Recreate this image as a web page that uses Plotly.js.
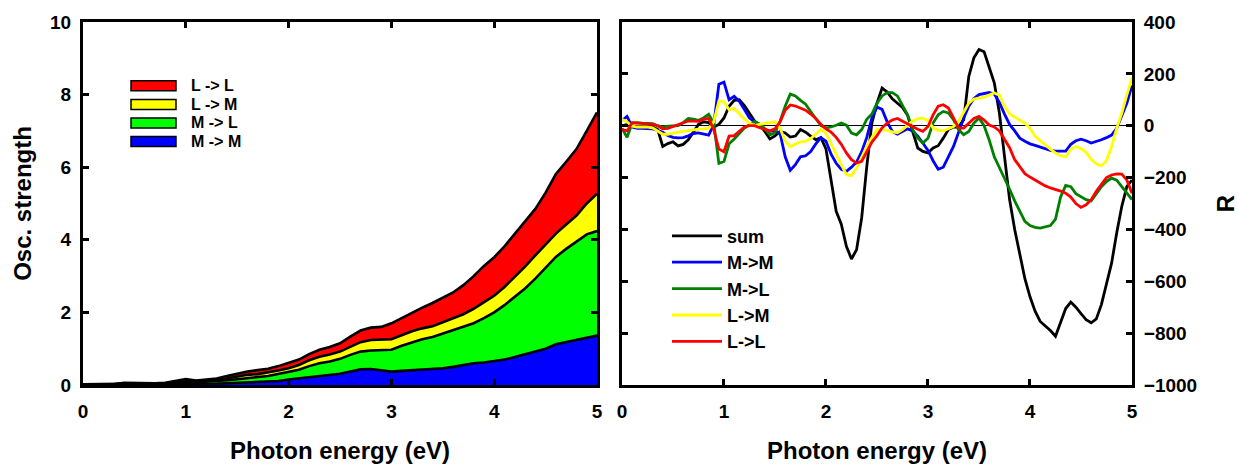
<!DOCTYPE html>
<html><head><meta charset="utf-8">
<script src="https://cdn.plot.ly/plotly-3.0.1.min.js"></script>
<style>html,body{margin:0;padding:0;background:#fff}#chart{width:1239px;height:464px}</style>
</head><body><div id="chart"></div>
<script>
// ---- Left panel: oscillator strength contributions (stacked) ----
const energyL = [0,0.1,0.2,0.3,0.4,0.5,0.6,0.7,0.8,0.9,1.0,1.1,1.2,1.3,1.4,1.5,1.6,1.7,1.8,1.9,2.0,
  2.1,2.2,2.3,2.4,2.5,2.6,2.7,2.8,2.9,3.0,3.1,3.2,3.3,3.4,3.5,3.6,3.7,3.8,3.9,4.0,
  4.1,4.2,4.3,4.4,4.5,4.6,4.7,4.8,4.9,5.0];
const oscMM = [.02,.02,.02,.02,.03,.03,.03,.03,.03,.03,.04,.03,.03,.04,.05,.06,.07,.08,.09,.11,.15,
  .18,.22,.26,.28,.31,.37,.43,.44,.41,.37,.39,.41,.42,.43,.46,.50,.55,.60,.62,.65,
  .70,.77,.84,.92,1.00,1.12,1.18,1.24,1.30,1.36];
const oscML = [0,0,0,0,.01,.01,.01,.01,.01,.05,.06,.05,.06,.06,.08,.10,.13,.14,.16,.19,.20,
  .24,.30,.34,.37,.41,.46,.49,.51,.54,.60,.69,.77,.84,.89,.96,1.02,1.05,1.10,1.22,1.35,
  1.50,1.66,1.82,2.01,2.22,2.41,2.57,2.71,2.85,2.88];
const oscLM = [0,0,0,0,.01,0,0,0,.01,.02,.03,.02,.02,.04,.05,.08,.08,.08,.09,.10,.11,
  .13,.16,.18,.19,.20,.22,.26,.29,.29,.29,.29,.30,.30,.30,.31,.33,.35,.40,.44,.46,
  .50,.55,.60,.64,.65,.64,.67,.72,.85,1.03];
const oscLL = [0,0,0,0,.01,.01,.01,.01,.01,.02,.03,.02,.03,.04,.07,.08,.09,.11,.11,.12,.14,
  .15,.17,.19,.21,.23,.28,.32,.34,.36,.44,.48,.52,.57,.64,.67,.70,.80,.90,1.00,1.06,
  1.12,1.19,1.24,1.28,1.43,1.64,1.73,1.83,2.00,2.24];

// ---- Right panel: rotatory strength R ----
const energyR = [0,0.05,0.1,0.15,0.2,0.25,0.3,0.35,0.4,0.45,0.5,0.55,0.6,0.65,0.7,0.75,0.8,0.85,0.9,0.95,
  1.0,1.05,1.1,1.15,1.2,1.25,1.3,1.35,1.4,1.45,1.5,1.55,1.6,1.65,1.7,1.75,1.8,1.85,1.9,1.95,
  2.0,2.05,2.1,2.15,2.2,2.25,2.3,2.35,2.4,2.45,2.5,2.55,2.6,2.65,2.7,2.75,2.8,2.85,2.9,2.95,
  3.0,3.05,3.1,3.15,3.2,3.25,3.3,3.35,3.4,3.45,3.5,3.55,3.6,3.65,3.7,3.75,3.8,3.85,3.9,3.95,
  4.0,4.05,4.1,4.15,4.2,4.25,4.3,4.35,4.4,4.45,4.5,4.55,4.6,4.65,4.7,4.75,4.8,4.85,4.9,4.95,5.0];
const rSum = [0,5,-3,-3,-3,-3,-5,-15,-80,-69,-62,-78,-72,-54,-22,5,15,12,-5,5,
  30,75,98,100,78,50,18,2,-22,-51,-39,-22,-28,-44,-40,-15,-25,-40,-54,-46,
  -90,-210,-330,-380,-465,-514,-478,-355,-157,10,87,145,130,104,88,70,40,-20,-86,-99,
  -105,-86,-77,-48,-15,-5,-5,23,190,262,294,285,225,165,49,-130,-285,-400,-500,-590,
  -660,-715,-755,-772,-790,-812,-760,-705,-680,-700,-725,-748,-760,-745,-690,-605,-530,-414,-311,-234,-210];
const rMM = [20,36,-5,-10,-10,-11,-12,-18,-25,-38,-45,-47,-46,-39,-30,-28,-32,-36,5,160,
  168,100,113,94,62,30,15,6,-13,-22,-20,-30,-120,-172,-150,-120,-116,-100,-70,-46,
  -60,-110,-145,-168,-176,-160,-140,-100,-45,30,72,63,15,-22,-33,-22,-12,-20,-40,-67,
  -95,-135,-168,-160,-120,-80,-25,30,75,105,120,124,128,122,90,45,5,-20,-48,-60,
  -70,-76,-82,-90,-95,-98,-99,-98,-72,-58,-52,-58,-67,-62,-54,-46,-36,-10,35,87,155];
const rML = [-10,-45,10,12,10,8,8,0,-5,-2,0,0,12,28,25,21,30,44,10,-145,
  -138,-70,-51,-28,-9,4,17,5,-12,-35,-28,17,75,122,115,98,83,55,28,0,
  -8,-5,2,10,2,-28,-35,-15,25,45,87,115,128,128,115,81,42,-15,-48,-67,
  -48,10,42,55,49,23,-15,-35,-22,10,30,0,-55,-120,-160,-200,-245,-290,-330,-369,
  -385,-392,-395,-391,-385,-360,-275,-230,-235,-262,-275,-285,-290,-260,-235,-215,-202,-210,-235,-262,-285];
const rLM = [25,15,-2,-5,-5,-5,-8,-20,-33,-33,-28,-25,-22,-19,-15,-13,-12,-10,15,95,
  92,62,66,45,26,10,0,5,8,12,15,-10,-60,-80,-70,-62,-60,-50,-32,-14,
  -30,-72,-110,-150,-189,-193,-163,-121,-80,-45,-15,-15,-18,-24,-27,-15,3,18,27,29,
  20,-8,-18,-20,-12,-3,17,55,87,103,106,110,118,126,118,75,45,32,22,10,
  -10,-41,-58,-73,-90,-105,-115,-120,-90,-80,-88,-103,-130,-148,-154,-135,-80,-10,49,120,184];
const rLL = [-15,-20,12,10,8,8,5,0,-12,-10,-3,2,8,18,18,17,25,28,-15,-90,
  -100,-40,-38,-20,-5,0,0,-8,-15,-20,-12,15,60,80,76,68,60,45,28,5,
  -12,-25,-45,-72,-105,-131,-144,-137,-99,-63,-38,-8,10,22,28,17,6,-3,-14,-22,
  -3,42,75,81,68,30,-9,-9,10,28,36,22,3,-5,-20,-50,-85,-131,-160,-185,
  -198,-210,-220,-232,-240,-245,-252,-260,-275,-300,-315,-305,-285,-253,-225,-200,-190,-186,-187,-210,-260];

const FONT = 'Arial, "Liberation Sans", Helvetica, sans-serif';
const tickFont = {family: FONT, size: 19, color: '#000', weight: 'bold'};
const titleFont = {family: FONT, size: 24, color: '#000', weight: 'bold'};
const legFont = {family: FONT, size: 18, color: '#000', weight: 'bold'};
const legFontL = {family: FONT, size: 16, color: '#000', weight: 'bold'};

const stackDefs = [
  {name: 'M -> M', y: oscMM, color: '#0000FF'},
  {name: 'M -> L', y: oscML, color: '#00FF00'},
  {name: 'L -> M', y: oscLM, color: '#FFFF00'},
  {name: 'L -> L', y: oscLL, color: '#FF0000'}
];
const lineDefs = [
  {name: 'sum', y: rSum, color: '#000000'},
  {name: 'M->M', y: rMM, color: '#0000FF'},
  {name: 'M->L', y: rML, color: '#008000'},
  {name: 'L->M', y: rLM, color: '#FFFF00'},
  {name: 'L->L', y: rLL, color: '#FF0000'}
];

const traces = [];
stackDefs.forEach(d => traces.push({
  type: 'scatter', mode: 'lines', x: energyL, y: d.y, name: d.name,
  stackgroup: 'osc', fillcolor: d.color,
  line: {color: '#000', width: 2.6},
  xaxis: 'x', yaxis: 'y', showlegend: false
}));
lineDefs.forEach(d => traces.push({
  type: 'scatter', mode: 'lines', x: energyR, y: d.y, name: d.name,
  line: {color: d.color, width: 2.8},
  xaxis: 'x2', yaxis: 'y2', legend: 'legend2'
}));

// Legend of the stacked panel (top entry = last stacked series), drawn as
// bordered colour boxes with labels in the left panel's domain coordinates.
const legShapes = [], legNotes = [];
const legX0 = 0.0934, legX1 = 0.1809, legTextX = 0.2062, legTop = 0.8242, legStep = 0.05116, legHalf = 0.0138;
stackDefs.slice().reverse().forEach((d, i) => {
  const yc = legTop - i * legStep;
  legShapes.push({type: 'rect', xref: 'x domain', yref: 'y domain',
    x0: legX0, x1: legX1, y0: yc - legHalf, y1: yc + legHalf,
    fillcolor: d.color, line: {color: '#000', width: 1.5}});
  legNotes.push({xref: 'x domain', yref: 'y domain', x: legTextX, y: yc,
    xanchor: 'left', yanchor: 'middle', showarrow: false, text: d.name, font: legFontL});
});

const axBase = {
  showline: true, linewidth: 3, linecolor: '#000', mirror: 'ticks',
  ticks: 'inside', ticklen: 6, tickwidth: 3, tickcolor: '#000',
  showgrid: false, zeroline: false, tickfont: tickFont, automargin: false
};

const layout = {
  width: 1239, height: 464,
  margin: {l: 83, r: 107, t: 22, b: 79},
  paper_bgcolor: '#fff', plot_bgcolor: '#fff',
  showlegend: true,
  shapes: legShapes,
  annotations: legNotes,
  xaxis: Object.assign({}, axBase, {
    domain: [0, 0.49], range: [0, 5], dtick: 1, anchor: 'y', ticklabelstandoff: 7,
    title: {text: 'Photon energy (eV)', font: titleFont, standoff: 22}
  }),
  yaxis: Object.assign({}, axBase, {
    domain: [0, 1], range: [0, 10], dtick: 2, anchor: 'x', ticklabelstandoff: 5,
    title: {text: 'Osc. strength', font: titleFont, standoff: 12}
  }),
  xaxis2: Object.assign({}, axBase, {
    domain: [0.5138, 1], range: [0, 5], dtick: 1, anchor: 'y2', ticklabelstandoff: 7,
    title: {text: 'Photon energy (eV)', font: titleFont, standoff: 22}
  }),
  yaxis2: Object.assign({}, axBase, {
    domain: [0, 1], range: [-1000, 400], dtick: 200, anchor: 'x2', side: 'right',
    ticklabelstandoff: 5,
    zeroline: true, zerolinecolor: '#000', zerolinewidth: 1.5,
    title: {text: 'R', font: titleFont, standoff: 24}
  }),
  legend2: {
    x: 0.5567, y: 0.4612, xanchor: 'left', yanchor: 'top',
    traceorder: 'normal', font: legFont, bgcolor: 'rgba(0,0,0,0)',
    itemwidth: 50, itemclick: false, itemdoubleclick: false
  }
};

Plotly.newPlot('chart', traces, layout, {displayModeBar: false, responsive: false, staticPlot: true});
</script>
</body></html>
